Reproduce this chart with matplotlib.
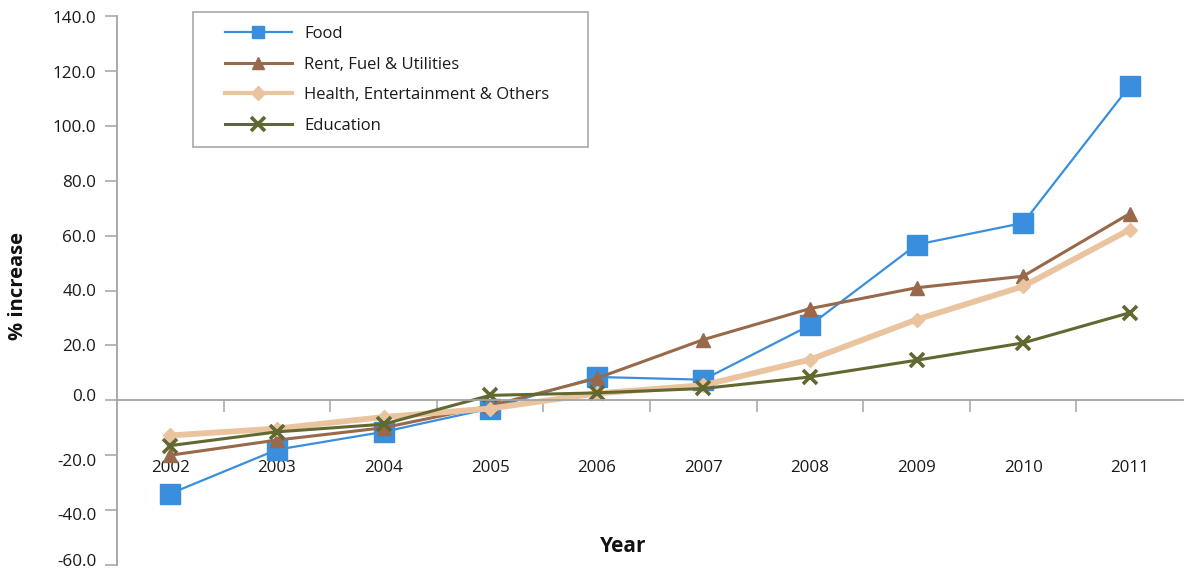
import matplotlib
matplotlib.use("Agg")
import matplotlib.pyplot as plt
from matplotlib.lines import Line2D
from matplotlib.patches import Rectangle
from matplotlib.transforms import ScaledTranslation

years = ["2002", "2003", "2004", "2005", "2006", "2007", "2008", "2009", "2010", "2011"]
food = [-34.0, -18.0, -11.5, -3.0, 8.5, 7.5, 27.3, 56.7, 64.6, 114.5]
rent = [-20.0, -14.5, -10.0, -2.0, 8.0, 22.1, 33.4, 41.0, 45.2, 68.0]
health = [-12.8, -10.3, -6.1, -3.0, 2.5, 5.5, 14.8, 29.4, 41.5, 62.2]
education = [-16.5, -11.5, -8.7, 1.8, 2.7, 4.3, 8.5, 14.6, 20.9, 31.9]
y_ticks = [-60, -40, -20, 0, 20, 40, 60, 80, 100, 120, 140]

plt.rcParams["font.family"] = ["Open Sans", "DejaVu Sans"]

W, H = 1184, 569
fig = plt.figure(figsize=(W / 100, H / 100), dpi=100)
ax = fig.add_axes([117 / W, 1 - 565 / H, (1183 - 117) / W, (565 - 16) / H])

x = list(range(len(years)))
# label, values, colour, marker, size, line width, edge width, legend size, legend line width
styles = [
    ("Food", food, "#3a8ede", "s", 14.5, 1.6, 1.0, 9.0, 1.6),
    ("Rent, Fuel & Utilities", rent, "#98694a", "^", 9.5, 2.2, 1.0, 9.0, 2.2),
    ("Health, Entertainment & Others", health, "#e9c49f", "D", 7.5, 4.2, 1.0, 7.5, 3.0),
    ("Education", education, "#626830", "x", 10.5, 2.2, 2.6, 10.0, 2.2),
]
handles = []
for label, vals, color, mk, ms, lw, mew, lms, llw in styles:
    ax.plot(x, vals, color=color, marker=mk, markersize=ms, linewidth=lw,
            markeredgewidth=mew, markeredgecolor=color, clip_on=False)
    handles.append(Line2D([], [], color=color, marker=mk, markersize=lms,
                          linewidth=llw, markeredgewidth=mew,
                          markeredgecolor=color))

ax.set_xlim(-0.5, len(years) - 0.5)
ax.set_ylim(-60, 140)

gray = "#a3a3a3"
for s in ("top", "right"):
    ax.spines[s].set_visible(False)
ax.spines["left"].set_color(gray)
ax.spines["left"].set_linewidth(1.3)
ax.spines["bottom"].set_position(("data", 0))
ax.spines["bottom"].set_color(gray)
ax.spines["bottom"].set_linewidth(1.3)

ax.set_yticks(y_ticks)
ax.set_yticklabels([f"{v:.1f}" for v in y_ticks])
ax.tick_params(axis="y", length=8.5, width=1.1, color=gray, pad=6.5,
               labelsize=12.3, labelcolor="#1a1a1a")
# small vertical nudges of individual tick labels (pixels, positive = up)
nudge = {-60: 5, -40: -4, -20: -5, 0: 5, 120: -1, 140: -1}
for v, lab in zip(y_ticks, ax.get_yticklabels()):
    dy = nudge.get(v, 0)
    if dy:
        lab.set_transform(lab.get_transform() +
                          ScaledTranslation(0, dy / 100, fig.dpi_scale_trans))

# category boundaries carry the tick marks, centres carry the year labels
ax.set_xticks([i + 0.5 for i in range(len(years) - 1)])
ax.set_xticklabels([])
ax.tick_params(axis="x", which="major", direction="out", length=8.5,
               width=1.1, color=gray)
ax.set_xticks(x, minor=True)
ax.set_xticklabels(years, minor=True)
ax.tick_params(axis="x", which="minor", length=0, pad=43,
               labelsize=12.2, labelcolor="#1a1a1a")

fig.text(18 / W, 1 - 286 / H, "% increase", rotation=90, ha="center",
         va="center", fontsize=14.5, fontweight="bold", color="#111111")
fig.text(623 / W, 1 - 546 / H, "Year", ha="center", va="center",
         fontsize=15, fontweight="bold", color="#111111")

# legend entries, with a separately drawn frame
leg = fig.legend(handles=handles, labels=[s[0] for s in styles],
                 loc="upper left",
                 bbox_to_anchor=(225 / W, 1 - 26 / H),
                 fontsize=12, handlelength=4.0, handletextpad=0.75,
                 labelspacing=0.88, borderpad=0.0, borderaxespad=0,
                 frameon=False)
for t in leg.get_texts():
    t.set_color("#1a1a1a")
fig.patches.append(Rectangle((193 / W, 1 - 147 / H), (588 - 193) / W,
                             (147 - 12) / H, transform=fig.transFigure,
                             fill=False, edgecolor="#a8a8a8", linewidth=1.2))

fig.savefig("out.png", dpi=100)
